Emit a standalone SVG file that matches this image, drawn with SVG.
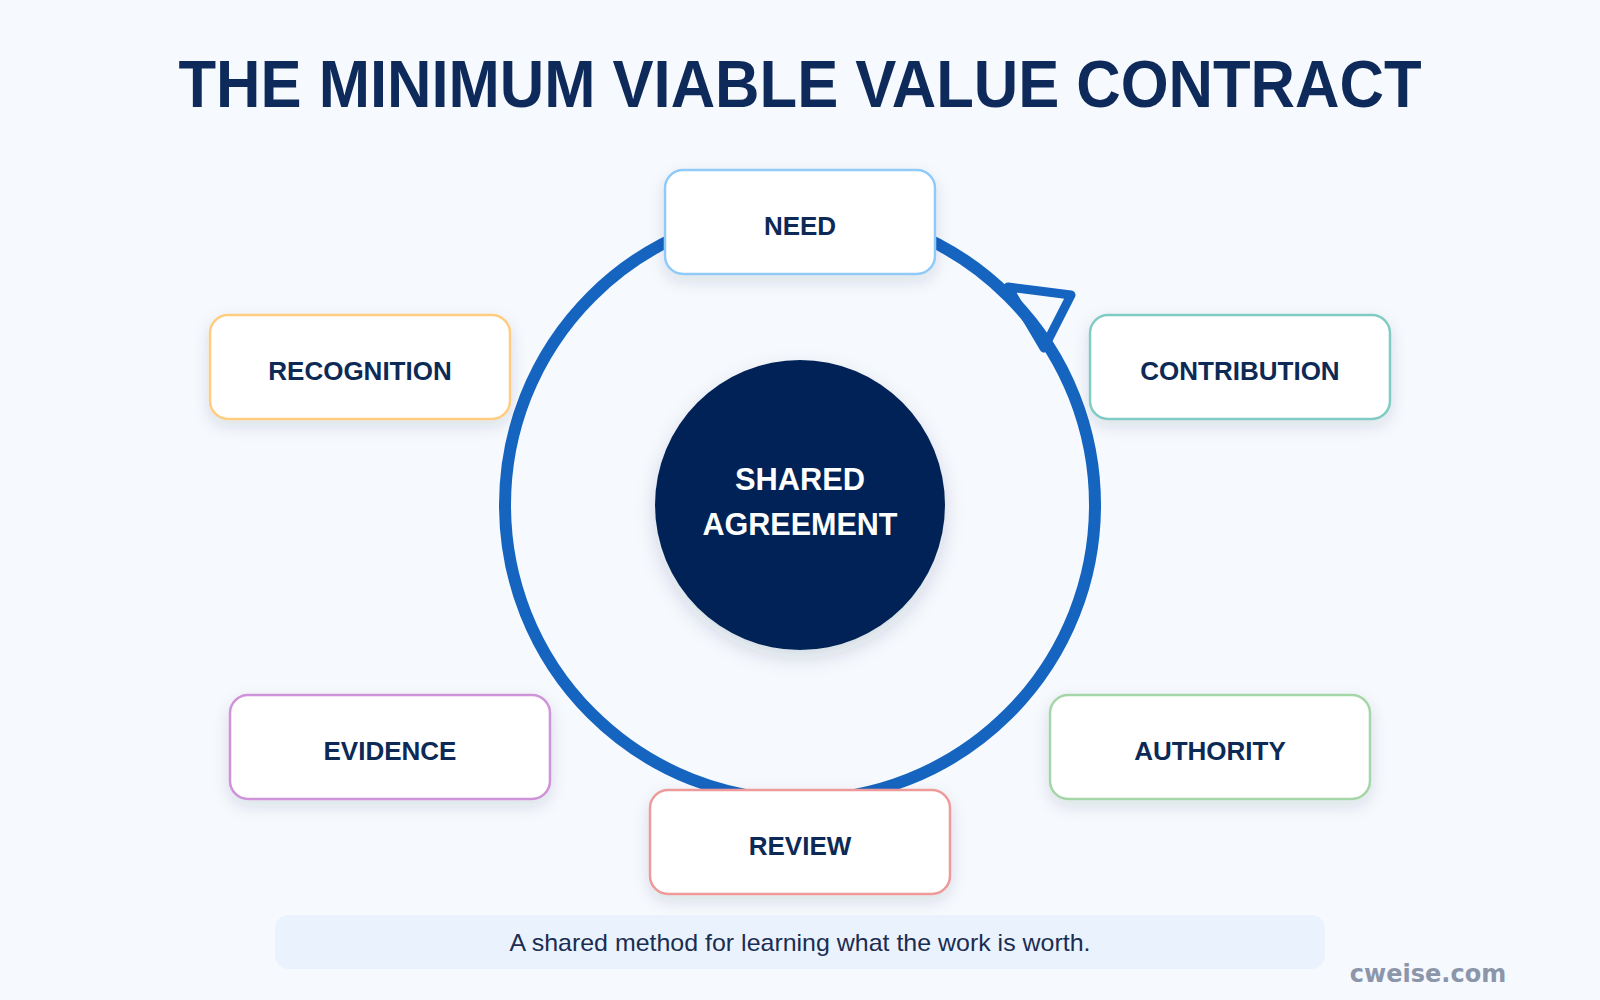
<svg xmlns="http://www.w3.org/2000/svg" width="1600" height="1000" viewBox="0 0 1600 1000">
<defs>
<style>
.node rect{fill:#ffffff;stroke-width:2.5;filter:url(#sh)}
.node text{font-family:"Liberation Sans",Arial,sans-serif;font-weight:700;font-size:26px;fill:#0d2a56;text-anchor:middle}
.title{font-family:"Liberation Sans",Arial,sans-serif;font-weight:700;font-size:66px;fill:#0d2a5a;text-anchor:middle}
.ctext{font-family:"Liberation Sans",Arial,sans-serif;font-weight:700;font-size:31px;fill:#ffffff;text-anchor:middle}
.cap{font-family:"Liberation Sans",Arial,sans-serif;font-size:24px;fill:#1b2d52;text-anchor:middle}
.wm{font-family:"DejaVu Sans",sans-serif;font-weight:700;font-size:24px;fill:#8c96aa;text-anchor:middle}
</style>
<filter id="sh" x="-20%" y="-30%" width="140%" height="170%">
<feDropShadow dx="0" dy="6" stdDeviation="8" flood-color="#1a2a4a" flood-opacity="0.12"/>
</filter>
<filter id="shc" x="-20%" y="-20%" width="140%" height="150%">
<feDropShadow dx="0" dy="8" stdDeviation="10" flood-color="#1a2a4a" flood-opacity="0.15"/>
</filter>
</defs>
<rect width="1600" height="1000" fill="#f6f9fd"/>
<text class="title" x="800" y="107" textLength="1243" lengthAdjust="spacingAndGlyphs">THE MINIMUM VIABLE VALUE CONTRACT</text>

<g id="connectors">
<circle cx="800" cy="505" r="295" fill="none" stroke="#1565c0" stroke-width="12"/>
<polygon points="1008,287 1071,295 1044,348" fill="none" stroke="#1565c0" stroke-width="9" stroke-linejoin="round"/>
</g>

<g id="center">
<circle cx="800" cy="505" r="145" fill="#052456" filter="url(#shc)"/>
<text class="ctext" x="800" y="490" textLength="130" lengthAdjust="spacingAndGlyphs">SHARED</text>
<text class="ctext" x="800" y="535" textLength="195" lengthAdjust="spacingAndGlyphs">AGREEMENT</text>
</g>

<g id="need" class="node">
<rect x="665" y="170" width="270" height="104" rx="18" stroke="#90caf9"/>
<text x="800" y="235">NEED</text>
</g>
<g id="recognition" class="node">
<rect x="210" y="315" width="300" height="104" rx="18" stroke="#ffcc80"/>
<text x="360" y="380">RECOGNITION</text>
</g>
<g id="contribution" class="node">
<rect x="1090" y="315" width="300" height="104" rx="18" stroke="#80cbc4"/>
<text x="1240" y="380">CONTRIBUTION</text>
</g>
<g id="evidence" class="node">
<rect x="230" y="695" width="320" height="104" rx="18" stroke="#ce93d8"/>
<text x="390" y="760">EVIDENCE</text>
</g>
<g id="authority" class="node">
<rect x="1050" y="695" width="320" height="104" rx="18" stroke="#a5d6a7"/>
<text x="1210" y="760">AUTHORITY</text>
</g>
<g id="review" class="node">
<rect x="650" y="790" width="300" height="104" rx="18" stroke="#ef9a9a"/>
<text x="800" y="855">REVIEW</text>
</g>

<g id="caption">
<rect x="275" y="915" width="1050" height="54" rx="14" fill="#eaf2fd"/>
<text class="cap" x="800" y="951" textLength="581" lengthAdjust="spacingAndGlyphs">A shared method for learning what the work is worth.</text>
</g>
<text class="wm" x="1428" y="982">cweise.com</text>
</svg>
